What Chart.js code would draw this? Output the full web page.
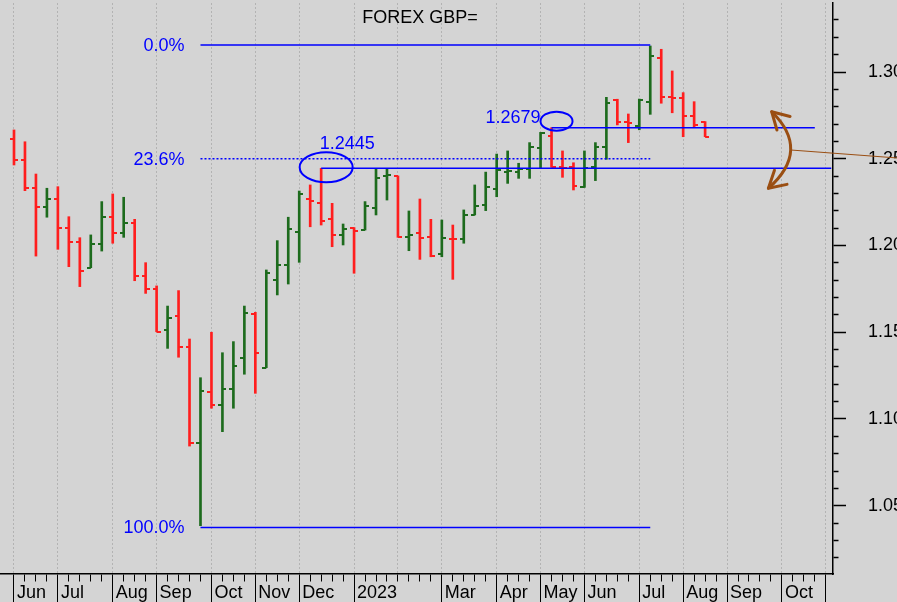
<!DOCTYPE html>
<html>
<head>
<meta charset="utf-8">
<script src="https://cdn.jsdelivr.net/npm/chart.js@4.4.1/dist/chart.umd.min.js"></script>
<style>
html,body{margin:0;padding:0;background:#d4d4d4;overflow:hidden;}
canvas{display:block;}
</style>
</head>
<body>
<canvas id="c" width="897" height="602"></canvas>
<script>
// ---- Weekly GBP= OHLC (weeks ending Fri, from 3 Jun 2022) ----
const opens  = [1.2614,1.2493,1.2330,1.2220,1.2266,1.2099,1.2022,1.1872,1.2007,1.2166,1.2070,1.2131,1.1826,1.1748,1.1513,1.1594,
                1.1413,1.0860,1.1154,1.1081,1.1173,1.1350,1.1603,1.1296,1.1801,1.1888,1.2080,1.2266,1.2247,1.2151,1.2061,1.2100,
                1.2089,1.2214,1.2401,1.2401,1.2051,1.2070,1.2051,1.1951,1.2040,1.2035,1.2176,1.2233,1.2324,1.2424,1.2425,1.2441,
                1.2560,1.2633,1.2451,1.2451,1.2339,1.2451,1.2566,1.2839,1.2710,1.2689,1.2829,1.3083,1.2858,1.2848,1.2748,1.2714];
const highs  = [1.2666,1.2598,1.2412,1.2330,1.2339,1.2166,1.2045,1.2061,1.2253,1.2297,1.2278,1.2151,1.1901,1.1767,1.1651,1.1740,
                1.1461,1.1238,1.1500,1.1382,1.1446,1.1651,1.1615,1.1859,1.2028,1.2163,1.2314,1.2349,1.2445,1.2243,1.2124,1.2103,
                1.2253,1.2439,1.2439,1.2401,1.2199,1.2268,1.2151,1.2147,1.2118,1.2205,1.2349,1.2423,1.2527,1.2545,1.2474,1.2593,
                1.2652,1.2679,1.2545,1.2477,1.2545,1.2593,1.2854,1.2843,1.2758,1.2844,1.3150,1.3131,1.3006,1.2881,1.2829,1.2714];
const lows   = [1.2464,1.2316,1.1939,1.2163,1.1978,1.1878,1.1763,1.1872,1.1968,1.2013,1.2047,1.1797,1.1724,1.1503,1.1407,1.1356,
                1.0844,1.0385,1.1062,1.0927,1.1062,1.1258,1.1148,1.1296,1.1715,1.1778,1.1903,1.2108,1.2118,1.1993,1.2003,1.1840,
                1.2089,1.2176,1.2262,1.2047,1.1970,1.1920,1.1935,1.1935,1.1805,1.2013,1.2176,1.2201,1.2281,1.2358,1.2387,1.2387,
                1.2445,1.2451,1.2393,1.2320,1.2335,1.2374,1.2497,1.2695,1.2593,1.2667,1.2756,1.2820,1.2765,1.2627,1.2685,1.2627];
const closes = [1.2493,1.2330,1.2220,1.2266,1.2099,1.2022,1.1855,1.2007,1.2166,1.2070,1.2131,1.1826,1.1748,1.1503,1.1584,1.1413,
                1.0860,1.1163,1.1081,1.1173,1.1305,1.1609,1.1379,1.1840,1.1888,1.2095,1.2295,1.2258,1.2141,1.2061,1.2095,1.2085,
                1.2228,1.2387,1.2405,1.2047,1.2061,1.2041,1.1939,1.2041,1.2035,1.2176,1.2228,1.2339,1.2435,1.2428,1.2440,1.2566,
                1.2647,1.2454,1.2446,1.2345,1.2445,1.2566,1.2823,1.2710,1.2705,1.2840,1.3092,1.2858,1.2848,1.2748,1.2695,1.2627];

// x axis: week slots, month starts and their labels
const monthStartWeeks = [0,4,9,13,18,22,26,31,35,39,44,48,52,57,61,65,70,74];
const monthLabels     = ['Jun','Jul','Aug','Sep','Oct','Nov','Dec','2023','','Mar','Apr','May','Jun','Jul','Aug','Sep','Oct',''];
const shortTickMonths = [35];
const lastAxisWeek = 74;

// y axis labels
const yTickLabels = ['1.05','1.10','1.15','1.20','1.25','1.30'];

// Fibonacci retracement
const fibLabels = ['0.0%','23.6%','100.0%'];
const fibValues = [1.3156, 1.2500, 1.0375];
const fibFromWeek = 17, fibToWeek = 58;

// marked levels
const levelValues    = [1.2445, 1.2679];
const levelFromWeeks = [28, 49];
const levelToWeeks   = [74.5, 73];

const chartTitle = 'FOREX GBP=';

// ---------------------------------------------------------
const RED = '#ff1e1e', GREEN = '#1d6b1d', BLUE = '#0000ff', BROWN = '#9a4e12';
const FONT = '"Liberation Sans", Arial, Helvetica, sans-serif';
Chart.defaults.font.family = FONT;
Chart.defaults.font.size = 18;

const weeks = opens.map((_, i) => i);
const up = weeks.map(i => closes[i] >= opens[i]);

function tickImg(color, side) {
  const c = document.createElement('canvas');
  c.width = 8; c.height = 2;
  const g = c.getContext('2d');
  g.fillStyle = color;
  g.fillRect(side === 'left' ? 0 : 4, 0, 4, 2);
  return c;
}
const imgOpenUp = tickImg(GREEN, 'left'), imgOpenDn = tickImg(RED, 'left');
const imgCloseUp = tickImg(GREEN, 'right'), imgCloseDn = tickImg(RED, 'right');

const axisWeeks = [];
for (let w = 0; w <= lastAxisWeek; w++) axisWeeks.push(w);
const yTickVals = [];
for (let k = 102; k <= 133; k++) yTickVals.push(k / 100);

const isMonthStart = t => t && monthStartWeeks.includes(Math.round(t.value));
const isLongTick = t => isMonthStart(t) && !shortTickMonths.includes(Math.round(t.value));
const xLabel = v => { const k = monthStartWeeks.indexOf(Math.round(v)); return k >= 0 ? monthLabels[k] : ''; };
const isMajorY = t => t && yTickLabels.includes(t.value.toFixed(2));
const yLabel = v => { const s = v.toFixed(2); return yTickLabels.includes(s) ? s : ''; };

const datasets = [];
fibValues.forEach((v, k) => datasets.push({
  type: 'line', data: [{x: fibFromWeek, y: v}, {x: fibToWeek, y: v}],
  borderColor: BLUE, borderWidth: k === 1 ? 1.3 : 1.5, borderDash: k === 1 ? [2, 2] : [],
  pointRadius: 0, fill: false
}));
levelValues.forEach((v, k) => datasets.push({
  type: 'line', data: [{x: levelFromWeeks[k], y: v}, {x: levelToWeeks[k], y: v}],
  borderColor: BLUE, borderWidth: 1.5, pointRadius: 0, fill: false
}));
datasets.push({
  type: 'scatter', data: weeks.map(i => ({x: i, y: opens[i]})),
  pointStyle: weeks.map(i => up[i] ? imgOpenUp : imgOpenDn), pointRadius: 3
});
datasets.push({
  type: 'scatter', data: weeks.map(i => ({x: i, y: closes[i]})),
  pointStyle: weeks.map(i => up[i] ? imgCloseUp : imgCloseDn), pointRadius: 3
});
datasets.push({
  type: 'bar', data: weeks.map(i => ({x: i, y: [lows[i], highs[i]]})),
  backgroundColor: weeks.map(i => up[i] ? GREEN : RED), barThickness: 2, borderWidth: 0
});

const annotate = {
  id: 'annotate',
  beforeDraw(chart) {
    const {ctx, width, height} = chart;
    ctx.save(); ctx.fillStyle = '#d4d4d4'; ctx.fillRect(0, 0, width, height); ctx.restore();
  },
  afterDatasetsDraw(chart) {
    const {ctx, scales: {x, y}} = chart;
    ctx.save();
    ctx.font = '18px ' + FONT;
    ctx.fillStyle = BLUE;
    ctx.textBaseline = 'middle';
    // fib labels
    ctx.textAlign = 'right';
    fibLabels.forEach((t, k) => ctx.fillText(t, x.getPixelForValue(fibFromWeek) - 16, y.getPixelForValue(fibValues[k]) + 1));
    // level labels
    const p0x = x.getPixelForValue(levelFromWeeks[0]), p0y = y.getPixelForValue(levelValues[0]);
    const p1x = x.getPixelForValue(levelFromWeeks[1]), p1y = y.getPixelForValue(levelValues[1]);
    ctx.textAlign = 'center';
    ctx.fillText(levelValues[0].toFixed(4), p0x + 26, p0y - 24);
    ctx.textAlign = 'right';
    ctx.fillText(levelValues[1].toFixed(4), p1x - 11, p1y - 10);
    // ellipses
    ctx.strokeStyle = BLUE; ctx.lineWidth = 2;
    ctx.beginPath(); ctx.ellipse(p0x + 5, p0y - 1, 26.5, 15, 0, 0, Math.PI * 2); ctx.stroke();
    ctx.beginPath(); ctx.ellipse(p1x + 5, p1y - 6.5, 16, 9.5, 0, 0, Math.PI * 2); ctx.stroke();
    ctx.restore();
  },
  afterDraw(chart) {
    const {ctx, scales: {x, y}} = chart;
    ctx.save();
    // title
    ctx.font = '18px ' + FONT; ctx.fillStyle = '#000';
    ctx.textAlign = 'center'; ctx.textBaseline = 'middle';
    ctx.fillText(chartTitle, 420, 18);
    // brown double arrow
    const P = (wx, v) => [x.getPixelForValue(wx), y.getPixelForValue(v)];
    const A = P(69.07, 1.2771), B = P(68.77, 1.2330), M = P(70.8, 1.2550);
    const C = [2 * M[0] - (A[0] + B[0]) / 2, 2 * M[1] - (A[1] + B[1]) / 2];
    ctx.strokeStyle = BROWN; ctx.lineWidth = 3; ctx.lineCap = 'round';
    ctx.beginPath(); ctx.moveTo(A[0], A[1]); ctx.quadraticCurveTo(C[0], C[1], B[0], B[1]); ctx.stroke();
    const head = (tip, to) => {
      const ang = Math.atan2(to[1] - tip[1], to[0] - tip[0]);
      ctx.beginPath();
      [-0.52, 0.52].forEach(d => {
        ctx.moveTo(tip[0], tip[1]);
        ctx.lineTo(tip[0] + 19 * Math.cos(ang + d), tip[1] + 19 * Math.sin(ang + d));
      });
      ctx.stroke();
    };
    head(A, C); head(B, C);
    ctx.lineWidth = 1;
    const E = P(80.6, 1.2504);
    ctx.beginPath(); ctx.moveTo(M[0] + 1, M[1]); ctx.lineTo(E[0], E[1]); ctx.stroke();
    ctx.restore();
  }
};

new Chart(document.getElementById('c'), {
  type: 'bar',
  data: { datasets },
  options: {
    responsive: false, animation: false, events: [],
    layout: { autoPadding: false, padding: { top: 3, left: 0, right: 0, bottom: 0 } },
    plugins: { legend: { display: false }, tooltip: { enabled: false }, title: { display: false } },
    scales: {
      x: {
        type: 'linear', position: 'bottom', min: -1.2762, max: 74.658, offset: false,
        afterBuildTicks: s => { s.ticks = axisWeeks.map(v => ({ value: v })); },
        afterFit: s => { s.height = 28; s.paddingLeft = 0; s.paddingRight = 0; },
        grid: {
          offset: false, drawOnChartArea: true, drawTicks: true,
          color: c => isMonthStart(c.tick) ? '#b3b3b3' : 'rgba(0,0,0,0)', lineWidth: 1,
          tickLength: 28, tickColor: '#000', tickWidth: 1,
          tickBorderDash: c => isLongTick(c.tick) ? [] : [7, 40]
        },
        border: { display: true, color: '#000', width: 1.5, dash: [2, 2] },
        ticks: {
          autoSkip: false, maxRotation: 0, minRotation: 0, align: 'start', labelOffset: 3,
          padding: -20, color: '#000', font: { size: 18 }, callback: v => xLabel(v)
        }
      },
      y: {
        type: 'linear', position: 'right', min: 1.01066, max: 1.33977, beginAtZero: false,
        afterBuildTicks: s => { s.ticks = yTickVals.map(v => ({ value: v })); },
        afterFit: s => { s.width = 64; s.paddingTop = 0; s.paddingBottom = 0; },
        grid: {
          drawOnChartArea: false, drawTicks: true, tickLength: 13, tickColor: '#000', tickWidth: 1.5,
          tickBorderDash: c => isMajorY(c.tick) ? [] : [5, 40]
        },
        border: { display: true, color: '#000', width: 1.5 },
        ticks: { autoSkip: false, padding: 22, color: '#000', font: { size: 18 }, callback: v => yLabel(v) }
      }
    }
  },
  plugins: [annotate]
});
</script>
</body>
</html>
